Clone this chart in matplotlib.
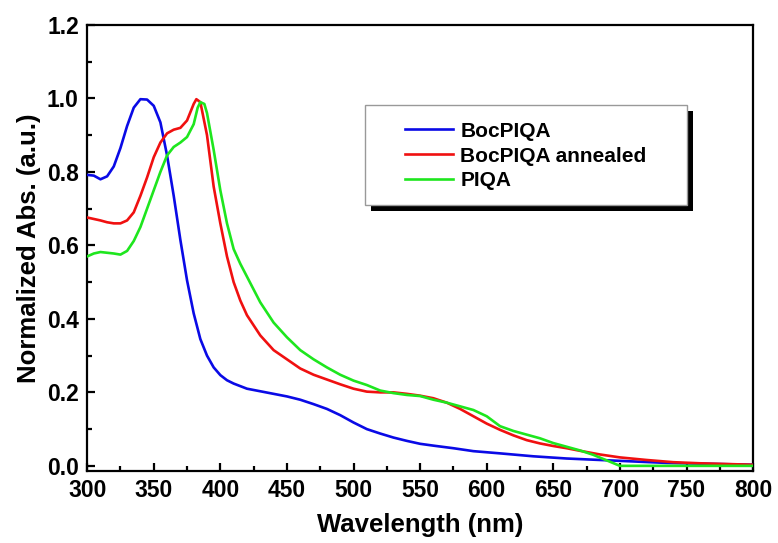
import matplotlib
matplotlib.use('Agg')
import matplotlib.pyplot as plt
from matplotlib.patches import Rectangle
from matplotlib.ticker import MultipleLocator

## Data
## ====
wl_boc = [300, 305, 310, 315, 320, 325, 330, 335, 340, 345, 350, 355, 360, 365, 370,
          375, 380, 385, 390, 395, 400, 405, 410, 420, 430, 440, 450, 460, 470, 480,
          490, 500, 510, 520, 530, 540, 550, 560, 575, 590, 610, 635, 660, 685, 710,
          735, 760, 800]
abs_boc = [0.792, 0.790, 0.780, 0.788, 0.815, 0.865, 0.925, 0.975, 0.998, 0.997, 0.980,
           0.935, 0.845, 0.735, 0.615, 0.505, 0.415, 0.345, 0.300, 0.268, 0.247, 0.233,
           0.224, 0.210, 0.203, 0.196, 0.189, 0.180, 0.168, 0.155, 0.138, 0.118, 0.100,
           0.088, 0.077, 0.068, 0.060, 0.055, 0.048, 0.040, 0.034, 0.026, 0.020, 0.016,
           0.012, 0.008, 0.006, 0.003]

wl_ann = [300, 305, 310, 315, 320, 325, 330, 335, 340, 345, 350, 355, 360, 365, 370,
          375, 380, 382, 385, 390, 395, 400, 405, 410, 415, 420, 430, 440, 450, 460,
          470, 480, 490, 500, 510, 520, 530, 540, 550, 560, 570, 580, 590, 600, 610,
          620, 630, 640, 650, 660, 670, 685, 700, 720, 740, 760, 780, 800]
abs_ann = [0.676, 0.672, 0.668, 0.663, 0.660, 0.660, 0.668, 0.690, 0.735, 0.785, 0.840,
           0.880, 0.905, 0.915, 0.920, 0.940, 0.985, 0.998, 0.990, 0.900, 0.760, 0.660,
           0.570, 0.500, 0.450, 0.410, 0.355, 0.315, 0.290, 0.265, 0.248, 0.235, 0.222,
           0.210, 0.202, 0.200, 0.200, 0.196, 0.191, 0.184, 0.172, 0.155, 0.135, 0.115,
           0.098, 0.083, 0.070, 0.061, 0.054, 0.048, 0.041, 0.031, 0.023, 0.016, 0.010,
           0.007, 0.005, 0.003]

wl_piqa = [300, 305, 310, 315, 320, 325, 330, 335, 340, 345, 350, 355, 360, 365, 370,
           375, 380, 383, 385, 388, 390, 395, 400, 405, 410, 415, 420, 430, 440, 450,
           460, 470, 480, 490, 500, 510, 520, 530, 540, 550, 560, 570, 580, 590, 600,
           610, 620, 630, 640, 650, 660, 670, 680, 690, 700, 750, 800]
abs_piqa = [0.570, 0.578, 0.582, 0.580, 0.578, 0.575, 0.585, 0.612, 0.650, 0.700, 0.750,
            0.800, 0.845, 0.868, 0.880, 0.895, 0.930, 0.975, 0.990, 0.985, 0.960, 0.860,
            0.750, 0.660, 0.590, 0.550, 0.515, 0.445, 0.390, 0.350, 0.315, 0.290, 0.268,
            0.248, 0.232, 0.220, 0.205, 0.198, 0.193, 0.190, 0.180, 0.172, 0.162, 0.152,
            0.135, 0.108, 0.095, 0.085, 0.075, 0.062, 0.052, 0.042, 0.030, 0.015, 0.000,
            0.000, 0.000]

labels = ['BocPIQA', 'BocPIQA annealed', 'PIQA']

plt.rcParams['font.family'] = ['Liberation Sans', 'DejaVu Sans']
plt.rcParams['font.weight'] = 'bold'

fig = plt.figure(figsize=(7.78, 5.43), dpi=100)
ax = fig.add_axes([0.112, 0.1326, 0.856, 0.8214])

ax.plot(wl_boc, abs_boc, color='#0a0ae6', lw=1.9, label=labels[0], zorder=3)
ax.plot(wl_ann, abs_ann, color='#f01010', lw=1.9, label=labels[1], zorder=3)
ax.plot(wl_piqa, abs_piqa, color='#1ee61e', lw=1.9, label=labels[2], zorder=3)

ax.set_xlim(300, 800)
ax.set_ylim(-0.014, 1.2)
ax.xaxis.set_major_locator(MultipleLocator(50))
ax.xaxis.set_minor_locator(MultipleLocator(25))
ax.yaxis.set_major_locator(MultipleLocator(0.2))
ax.yaxis.set_minor_locator(MultipleLocator(0.1))
ax.yaxis.set_major_formatter(lambda v, p: '%.1f' % v)

for s in ax.spines.values():
    s.set_linewidth(1.6)
ax.tick_params(which='both', direction='in', width=1.6, top=False, right=False)
ax.tick_params(which='major', length=6, labelsize=16.5, pad=6)
ax.tick_params(which='minor', length=3.5)

ax.set_xlabel('Wavelength (nm)', fontsize=18.5, fontweight='bold', labelpad=8)
ax.set_ylabel('Normalized Abs. (a.u.)', fontsize=18.5, fontweight='bold', labelpad=4)

# legend box with black drop shadow
ax.add_patch(Rectangle((0.4264, 0.5830), 0.4835, 0.2242, transform=ax.transAxes,
                       facecolor='black', edgecolor='none', clip_on=False, zorder=4))
ax.add_patch(Rectangle((0.4174, 0.5964), 0.4835, 0.2242, transform=ax.transAxes,
                       facecolor='white', edgecolor='#999999', lw=1, clip_on=False, zorder=4.5))
leg = ax.legend(loc='center left', bbox_to_anchor=(0.4775, 0.706), frameon=False,
                fontsize=15, handlelength=2.3, handletextpad=0.34, labelspacing=0.28,
                borderpad=0, borderaxespad=0)
leg.set_zorder(5)

plt.savefig('out.png', dpi=100)
